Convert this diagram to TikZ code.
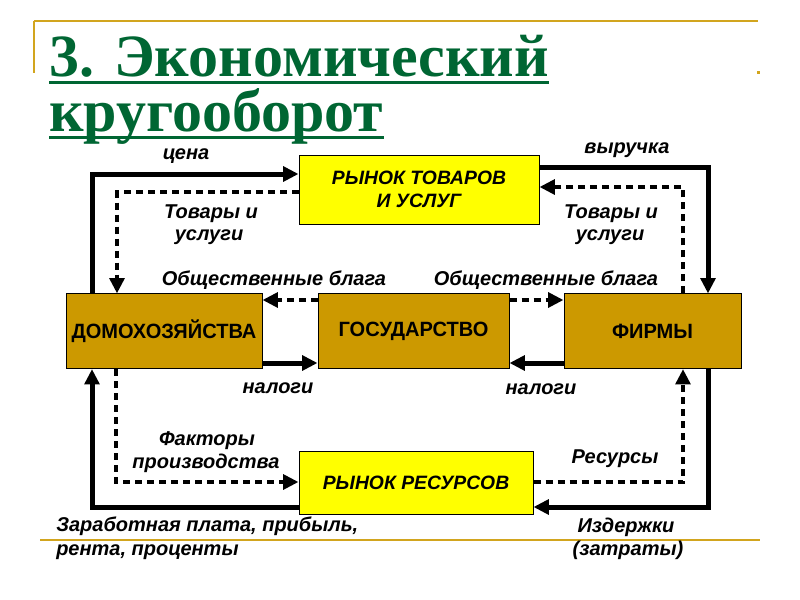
\documentclass[tikz,border=0pt]{standalone}
\usepackage{fontspec}
\setmainfont{Liberation Serif}
\newfontfamily\lsans{Liberation Sans}
\newfontfamily\lsansN[FakeStretch=0.97]{Liberation Sans}
\usetikzlibrary{arrows.meta}
\definecolor{gold}{RGB}{204,153,0}
\definecolor{goldline}{RGB}{210,165,30}
\definecolor{ttlgreen}{RGB}{0,102,51}
\definecolor{ybox}{RGB}{255,255,0}
\tikzset{
  ttl/.style={inner sep=0pt, anchor=base west, text=ttlgreen, font=\bfseries\fontsize{45}{45}\selectfont},
  ttlul/.style={draw=ttlgreen, line width=2.25pt},
  yelbox/.style={draw=black, line width=0.75pt, fill=ybox, inner sep=0pt, align=center,
     font=\lsans\bfseries\itshape\fontsize{14.5}{18.75}\selectfont},
  goldbox/.style={draw=black, line width=0.75pt, fill=gold, inner sep=0pt, align=center,
     minimum height=56pt, font=\lsansN\bfseries\fontsize{15.5}{18}\selectfont},
  lbl/.style={inner sep=0pt, anchor=base, font=\lsans\bfseries\itshape\fontsize{15}{17}\selectfont},
  lblw/.style={lbl, anchor=base west},
  flow/.style={line width=3.75pt, -{Triangle[length=11.5pt,width=11pt]}},
  dflow/.style={line width=3.4pt, dash pattern=on 5.25pt off 3.75pt, -{Triangle[length=11.5pt,width=11pt]}},
}
\begin{document}
\begin{tikzpicture}[x=0.75pt,y=-0.75pt]
\useasboundingbox (0,0) rectangle (800,600);
\fill[white] (0,0) rectangle (800,600);
% decorative gold lines
\draw[goldline, line width=1.5pt] (34,21) -- (758,21);
\draw[goldline, line width=1.5pt] (34,21) -- (34,73);
\fill[goldline] (756.5,70.5) rectangle (759.5,73.5);
\draw[goldline, line width=1.5pt] (40,540) -- (760,540);
% title
\node[ttl] (ti1) at (49,76) {3. Экономический};
\node[ttl] (ti2) at (49,131) {кругооборот};
\draw[ttlul] ([yshift=-4.5pt]ti1.base west) -- ([yshift=-4.5pt]ti1.base east);
\draw[ttlul] ([yshift=-4.5pt]ti2.base west) -- ([yshift=-4.5pt]ti2.base east);
% boxes
\node[yelbox, minimum width=180pt, minimum height=51.75pt] (rt) at (419,189.5) {\raisebox{-1.5pt}{РЫНОК ТОВАРОВ}\\И УСЛУГ};
\node[yelbox, minimum width=175.5pt, minimum height=47.25pt] (rr) at (416,482.5) {РЫНОК РЕСУРСОВ};
\node[goldbox, minimum width=147pt] (dom) at (164,331.25) {\raisebox{-2pt}{ДОМОХОЗЯЙСТВА}};
\node[goldbox, minimum width=143.25pt] (gov) at (413.5,331.25) {\raisebox{-0.5pt}{ГОСУДАРСТВО}};
\node[goldbox, minimum width=132.75pt] (fir) at (652.5,331.25) {\raisebox{-1.5pt}{ФИРМЫ}};
% corner coordinates
\coordinate (a1) at (92,174);
\coordinate (a2) at (117,192);
\coordinate (a3) at (708,167);
\coordinate (a4) at (683,187);
\coordinate (g1) at (0,300);
\coordinate (t1) at (0,363);
\coordinate (b1) at (92,507);
\coordinate (b2) at (116,482);
\coordinate (b3) at (683,482);
\coordinate (b4) at (708,507);
% upper flows
\draw[flow] (a1 |- dom.north) -- (a1) -- (a1 -| rt.west);
\draw[dflow] (rt.west |- a2) -- (a2) -- (a2 |- dom.north);
\draw[flow] (rt.east |- a3) -- (a3) -- (a3 |- fir.north);
\draw[dflow] (a4 |- fir.north) -- (a4) -- (a4 -| rt.east);
% government flows
\draw[dflow] (gov.west |- g1) -- (dom.east |- g1);
\draw[dflow] (gov.east |- g1) -- (fir.west |- g1);
\draw[flow] (dom.east |- t1) -- (gov.west |- t1);
\draw[flow] (fir.west |- t1) -- (gov.east |- t1);
% lower flows
\draw[flow] (rr.west |- b1) -- (b1) -- (b1 |- dom.south);
\draw[dflow] (b2 |- dom.south) -- (b2) -- (b2 -| rr.west);
\draw[dflow] (rr.east |- b3) -- (b3) -- (b3 |- fir.south);
\draw[flow] (b4 |- fir.south) -- (b4) -- (b4 -| rr.east);
% labels
\node[lbl] (l1) at (186,159) {цена};
\node[lbl] (l2) at (627,153) {выручка};
\node[lbl] (l3) at (211,218) {Товары и};
\node[lbl] (l4) at (209,240) {услуги};
\node[lbl] (l5) at (611,218) {Товары и};
\node[lbl] (l6) at (610,240) {услуги};
\node[lbl] (l7) at (274,285) {Общественные блага};
\node[lbl] (l8) at (546,285) {Общественные блага};
\node[lbl] (l9) at (278,393) {налоги};
\node[lbl] (l10) at (541,394) {налоги};
\node[lbl] (l11) at (207,445) {Факторы};
\node[lbl] (l12) at (206,468) {производства};
\node[lbl] (l13) at (615,463) {Ресурсы};
\node[lblw] (l14) at (56,531) {Заработная плата, прибыль,};
\node[lblw] (l15) at (56,555) {рента, проценты};
\node[lbl] (l16) at (626,532) {Издержки};
\node[lbl] (l17) at (628,555) {(затраты)};
\end{tikzpicture}
\end{document}
